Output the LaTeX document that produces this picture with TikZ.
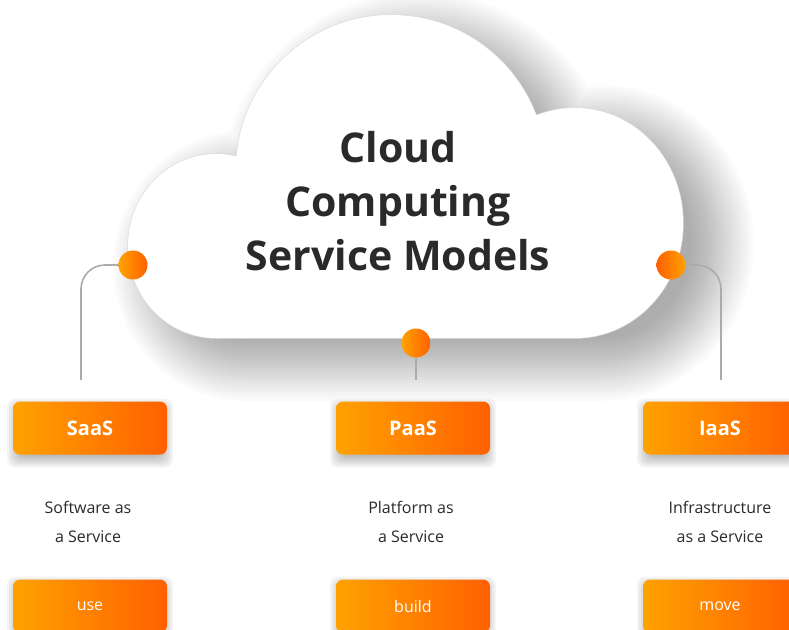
\documentclass[tikz,border=0pt]{standalone}
\usepackage{fontspec}
\setmainfont{Open Sans}
\usetikzlibrary{positioning}
\definecolor{OrangeL}{HTML}{FFA200}
\definecolor{OrangeR}{HTML}{FF6000}
\definecolor{LinkGray}{HTML}{ABABAB}
\definecolor{EdgeGray}{HTML}{DEDEDE}
\definecolor{TextDark}{HTML}{2A2A2A}

\tikzset{
  model/.style={rounded corners=7pt, left color=OrangeL, right color=OrangeR,
    minimum width=154pt, minimum height=53pt, inner sep=0pt, text=white,
    font=\bfseries\fontsize{20}{24}\selectfont},
  usage/.style={model, font=\fontsize{16}{19}\selectfont},
  desc/.style={align=center, inner sep=0pt, text=TextDark, font=\fontsize{16}{29}\selectfont},
  hub/.style={circle, minimum size=29pt, inner sep=0pt, left color=OrangeL, right color=OrangeR},
  link/.style={LinkGray, line width=1.6pt, rounded corners=24pt},
  haze/.style={black, opacity=#1}
}
% cloud outline, grown by \cloudr
\def\cloudr{0}
\def\cloudpath{(216,-246) ellipse [x radius=88+\cloudr, y radius=92+\cloudr]
  (391,-170) circle [radius=155+\cloudr]
  (575,-223) ellipse [x radius=108+\cloudr, y radius=115+\cloudr]
  (216,-223) rectangle (575,{-338-\cloudr})}

\begin{document}
\begin{tikzpicture}[x=1pt, y=1pt]
  \clip (0,0) rectangle (789,-629);
  \fill[white] (0,0) rectangle (789,-629);

  % soft shadow of the cloud
  \foreach \cloudr in {-20,-17,...,43}
    \fill[haze=0.017, shift={(28,-20)}] \cloudpath;
  \draw[EdgeGray, line width=1.4pt] \cloudpath;
  \fill[white] \cloudpath;
  \node[align=center, text=TextDark, font=\bfseries\fontsize{41}{54}\selectfont]
    (title) at (398,-201) {Cloud\\Computing\\Service Models};

  % shadows under the boxes
  \foreach \bx/\by in {90/-428, 413/-428, 720/-428, 90/-606, 413/-606, 720/-606}
    \foreach \r in {-4,-2,...,8}
      \fill[haze=0.045, rounded corners=8pt]
        ({\bx-75-\r}, {\by-31.5-\r}) rectangle ({\bx+75+\r}, {\by+21.5+\r});

  % service models
  \node[model] (saas) at (90,-428) {SaaS};
  \node[model] (paas) at (413,-428) {PaaS};
  \node[model] (iaas) at (720,-428) {IaaS};

  \node[desc, below=46pt of saas, xshift=-2pt] (saasD) {Software as\\a Service};
  \node[desc, below=46pt of paas, xshift=-2pt] (paasD) {Platform as\\a Service};
  \node[desc, below=46pt of iaas] (iaasD) {Infrastructure\\as a Service};

  \node[usage] (use) at (90,-606) {use};
  \node[usage] (build) at (413,-606) {build};
  \node[usage] (move) at (720,-606) {move};

  % hubs and links
  \node[hub] (hubL) at (133,-265) {};
  \node[hub] (hubC) at (416,-343) {};
  \node[hub, left color=OrangeR, right color=OrangeL] (hubR) at (671,-265) {};
  \coordinate (endL) at (81,-380);
  \coordinate (endC) at (416,-380);
  \coordinate (endR) at (721,-380);
  \draw[link] (hubL.west) -| (endL);
  \draw[link] (hubC.south) -- (endC);
  \draw[link] (hubR.east) -| (endR);
\end{tikzpicture}
\end{document}
